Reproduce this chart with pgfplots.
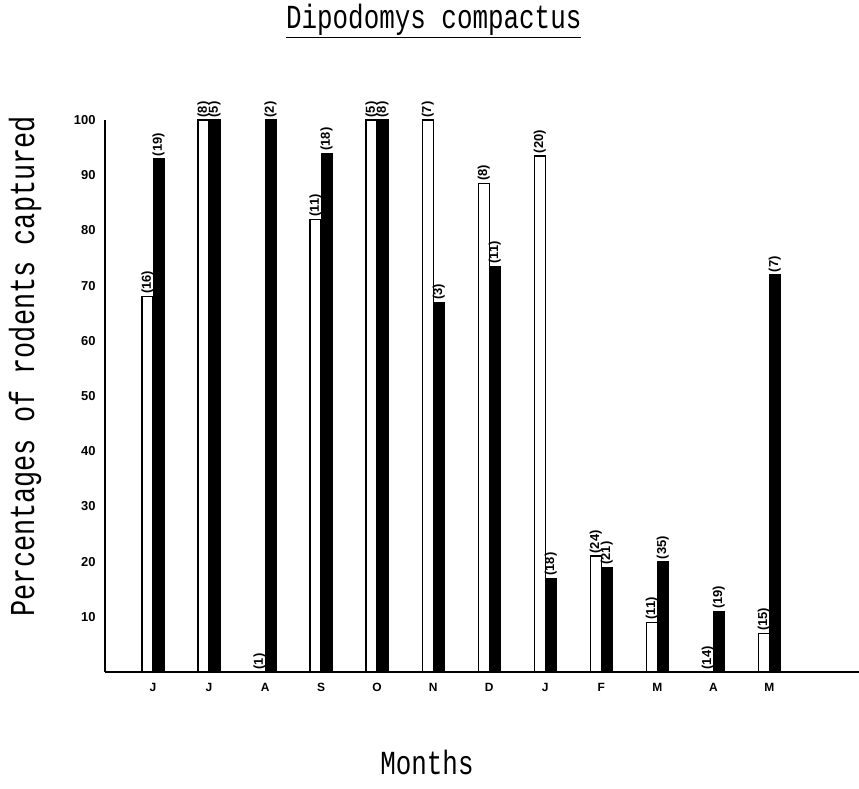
\documentclass[border=0pt]{standalone}
\usepackage{pgfplots}
\pgfplotsset{compat=1.18}
\usepackage{fontspec}
\setmainfont{Liberation Mono}
\newfontfamily\tickfont{Liberation Sans}
\begin{document}
\begin{tikzpicture}
\path[use as bounding box] (-105bp,-117bp) rectangle (754bp,672bp);
\begin{axis}[
  at={(0,0)}, anchor=south west,
  scale only axis, width=754bp, height=552bp,
  xmin=-0.857, xmax=12.6, ymin=0, ymax=100,
  clip=false,
  axis x line*=bottom, axis y line*=left,
  axis line style={line width=1.5pt, -},
  ybar=0pt, bar width=11bp,
  xtick={0,...,11},
  xticklabels={J,J,A,S,O,N,D,J,F,M,A,M},
  ytick={10,20,...,100},
  major tick length=0pt,
  /pgf/number format/assume math mode=true,
  tick label style={font=\tickfont\bfseries\fontsize{13}{15}\selectfont},
  xticklabel style={yshift=-8bp, font=\tickfont\bfseries\fontsize{12}{14}\selectfont},
  yticklabel style={xshift=-6bp},
  title={\scalebox{1}[1.3]{\underline{Dipodomys compactus}}},
  title style={at={(0.436,1.1558)}, anchor=base, font=\fontsize{26}{28}\selectfont},
  ylabel={\scalebox{1}[1.3]{Percentages of rodents captured}},
  ylabel style={at={(-0.106,0.554)}, anchor=center, font=\fontsize{27}{30}\selectfont},
  xlabel={\scalebox{1}[1.3]{Months}},
  xlabel style={at={(0.427,-0.163)}, anchor=center, font=\fontsize{26}{28}\selectfont},
  nodes near coords,
  point meta=explicit symbolic,
  every node near coord/.append style={rotate=90, anchor=west, font=\tickfont\bfseries\fontsize{13}{14}\selectfont, inner sep=2pt},
]
\addplot[fill=white, draw=black, line width=1.3pt] coordinates {
 (0,68) [(16)]
 (1,100) [(8)]
 (2,0) [(1)]
 (3,82) [(11)]
 (4,100) [(5)]
 (5,100) [(7)]
 (6,88.5) [(8)]
 (7,93.5) [(20)]
 (8,21) [(24)]
 (9,9) [(11)]
 (10,0) [(14)]
 (11,7) [(15)]
};
\addplot[fill=black, draw=black, line width=1pt] coordinates {
 (0,93) [(19)]
 (1,100) [(5)]
 (2,100) [(2)]
 (3,94) [(18)]
 (4,100) [(8)]
 (5,67) [(3)]
 (6,73.5) [(11)]
 (7,17) [(18)]
 (8,19) [(21)]
 (9,20) [(35)]
 (10,11) [(19)]
 (11,72) [(7)]
};
\end{axis}
\end{tikzpicture}
\end{document}
